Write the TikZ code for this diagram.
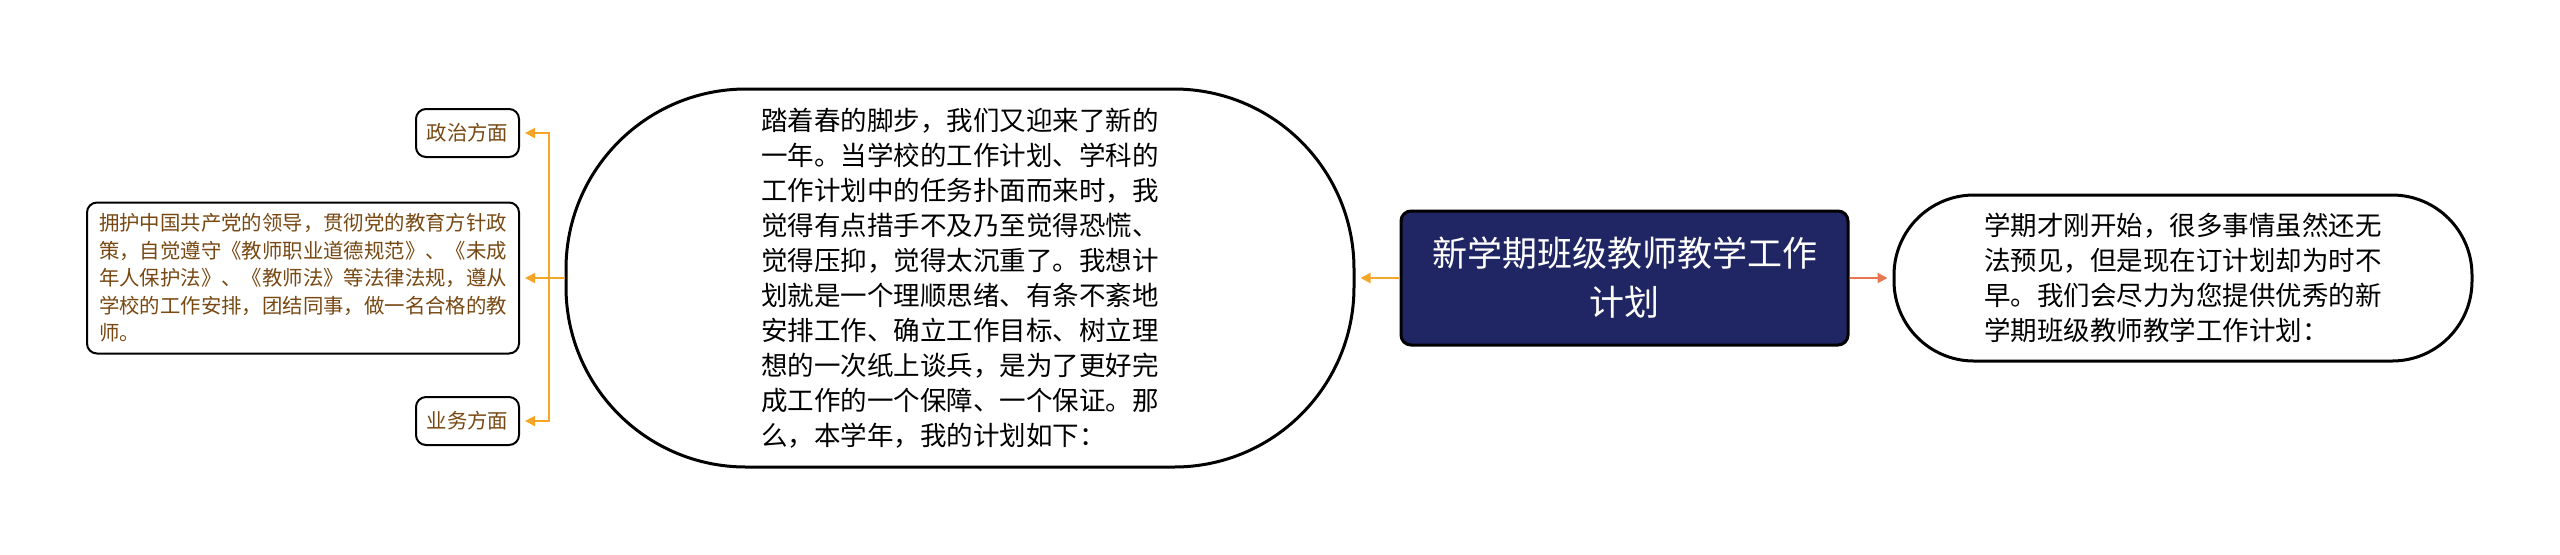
\documentclass[tikz,border=0pt]{standalone}
\usepackage{fontspec}
\newfontfamily\cjk{Noto Sans CJK SC}
\usetikzlibrary{arrows.meta}
\definecolor{navy}{RGB}{32,38,99}
\definecolor{branch}{RGB}{245,166,40}
\definecolor{lead}{RGB}{233,118,80}
\definecolor{leaftext}{RGB}{120,72,18}

\begin{document}
\begin{tikzpicture}[x=0.5pt, y=-0.5pt,
    arr/.style={-{Triangle[length=5pt,width=5pt]}, line width=1pt, shorten >=2.5pt},
    pill/.style={draw, line width=1.5pt, fill=white, align=left, inner sep=0pt,
        font=\cjk\fontsize{13.25pt}{17.5pt}\selectfont},
    leaf/.style={draw, line width=1pt, rounded corners=5pt, inner sep=0pt, text=leaftext,
        font=\cjk\fontsize{10.2pt}{13.75pt}\selectfont}]
        \useasboundingbox (0,0) rectangle (2560,554);

        \node[draw, line width=1.5pt, fill=navy, rounded corners=5pt, text=white, align=center,
            minimum width=223.5pt, minimum height=67pt, font=\cjk\fontsize{17.5pt}{24.5pt}\selectfont]
            (title) at (1624.5,278) {新学期班级教师教学工作\\计划};

        \node[pill, minimum width=394pt, minimum height=189pt, rounded corners=90pt]
            (intro) at (960,278) {踏着春的脚步，我们又迎来了新的\\一年。当学校的工作计划、学科的\\工作计划中的任务扑面而来时，我\\觉得有点措手不及乃至觉得恐慌、\\觉得压抑，觉得太沉重了。我想计\\划就是一个理顺思绪、有条不紊地\\安排工作、确立工作目标、树立理\\想的一次纸上谈兵，是为了更好完\\成工作的一个保障、一个保证。那\\么，本学年，我的计划如下：};
        \node[pill, minimum width=289pt, minimum height=83pt, rounded corners=40pt]
            (plan) at (2183,278) {学期才刚开始，很多事情虽然还无\\法预见，但是现在订计划却为时不\\早。我们会尽力为您提供优秀的新\\学期班级教师教学工作计划：};

        \node[leaf, minimum width=216pt, minimum height=75.5pt, align=left]
            (rule) at (303,278) {拥护中国共产党的领导，贯彻党的教育方针政\\策，自觉遵守《教师职业道德规范》、《未成\\年人保护法》、《教师法》等法律法规，遵从\\学校的工作安排，团结同事，做一名合格的教\\师。};
        \node[leaf, minimum width=51.5pt, minimum height=24pt] (pol) at (467.5,133) {政治方面};
        \node[leaf, minimum width=51.5pt, minimum height=24pt] (prof) at (467.5,421) {业务方面};

        \coordinate (j) at (549,278);

        \draw[arr, branch] (title) -- (intro);
        \draw[arr, lead] (title) -- (plan);
        \draw[arr, branch] (intro) -- (rule);
        \draw[arr, branch] (j) |- (pol);
        \draw[arr, branch] (j) |- (prof);
\end{tikzpicture}
\end{document}
